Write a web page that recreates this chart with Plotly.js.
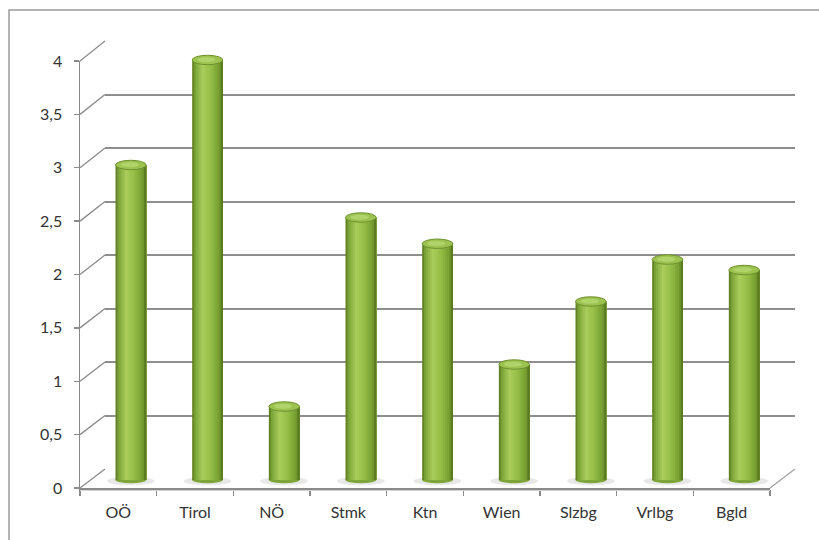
<!DOCTYPE html>
<html>
<head>
<meta charset="utf-8">
<script src="https://cdn.plot.ly/plotly-3.0.1.min.js"></script>
<style>
  html, body { margin: 0; padding: 0; background: #ffffff; }
  #chart { width: 819px; height: 540px; }
</style>
</head>
<body>
<div id="chart"></div>
<script>
// Regions and their values
const regions = ['OÖ', 'Tirol', 'NÖ', 'Stmk', 'Ktn', 'Wien', 'Slzbg', 'Vrlbg', 'Bgld'];
const values = [3, 4, 0.7, 2.5, 2.25, 1.1, 1.7, 2.1, 2.0];
const valueTicks = [0, 0.5, 1, 1.5, 2, 2.5, 3, 3.5, 4];

// Page geometry (pixels), used to place the three axis layers of the 3D look
const PW = 819, PH = 540;
const px = x => x / PW;
const py = y => 1 - y / PH;

const FRONT = { x0: 80, x1: 770, y0: 488, y1: 61 };   // front edge / value axis
const BACK  = { x0: 105, x1: 795, y0: 469, y1: 41 };  // back wall with gridlines
const VMAX = 4;

// plane the cylinders stand in: 0 at y=480, 105 px per unit, with headroom for caps
const MID_X0 = 92.5, MID_X1 = 782.5, MID_ZERO = 480, MID_SCALE = 105;
const MID_RANGE = [-0.12, 4.25];

const frontY = v => FRONT.y0 - (FRONT.y0 - FRONT.y1) * v / VMAX;
const backY  = v => BACK.y0 - (BACK.y0 - BACK.y1) * v / VMAX;
const midY   = v => MID_ZERO - MID_SCALE * v;

const FONT = 'Lato, "Open Sans", "DejaVu Sans", sans-serif';
const LINE = '#8a8a8a';

// Horizontal shading of a cylinder: dark rims, highlight left of centre
const stops = [
  [0.00, [88, 118, 30]],
  [0.10, [124, 164, 56]],
  [0.35, [170, 206, 92]],
  [0.62, [148, 188, 70]],
  [0.88, [118, 158, 48]],
  [1.00, [90, 122, 32]]
];
function shade(t) {
  for (let i = 1; i < stops.length; i++) {
    if (t <= stops[i][0]) {
      const [ta, ca] = stops[i - 1], [tb, cb] = stops[i];
      const f = (t - ta) / (tb - ta);
      const c = ca.map((a, k) => Math.round(a + (cb[k] - a) * f));
      return `rgb(${c[0]},${c[1]},${c[2]})`;
    }
  }
  const c = stops[stops.length - 1][1];
  return `rgb(${c[0]},${c[1]},${c[2]})`;
}

const BAR_W = 0.40;   // cylinder diameter in category units
const STRIPS = 16;
const CAP = 0.045;    // half height of the top ellipse in value units

const traces = [];

// front axes carrier
traces.push({ type: 'scatter', mode: 'none', x: regions, y: values.map(() => 0),
  xaxis: 'x', yaxis: 'y', hoverinfo: 'skip', showlegend: false });
// back wall carrier
traces.push({ type: 'scatter', mode: 'none', x: [0], y: [0],
  xaxis: 'x2', yaxis: 'y2', hoverinfo: 'skip', showlegend: false });

// cylinder bodies: each strip runs from its left edge to the right rim,
// later strips cover earlier ones, giving a smooth left-to-right shading
for (let k = 0; k < STRIPS; k++) {
  const t = (k + 0.5) / STRIPS;
  const left = -BAR_W / 2 + k * BAR_W / STRIPS;
  traces.push({
    type: 'bar', x: regions, y: values, xaxis: 'x3', yaxis: 'y3',
    width: BAR_W / 2 - left,
    offset: left,
    marker: { color: shade(t), line: { width: 0 } },
    hoverinfo: 'skip', showlegend: false
  });
}
// darker right rim on top
traces.push({
  type: 'bar', x: regions, y: values, xaxis: 'x3', yaxis: 'y3',
  width: BAR_W / STRIPS, offset: BAR_W / 2 - BAR_W / STRIPS,
  marker: { color: shade(1), line: { width: 0 } },
  hoverinfo: 'skip', showlegend: false
});

const shapes = [];

// soft shadow and rounded base of each cylinder
values.forEach((v, i) => {
  shapes.push({ type: 'circle', xref: 'x3', yref: 'y3', layer: 'below',
    x0: i - BAR_W * 0.78, x1: i + BAR_W * 0.78, y0: -0.05, y1: 0.03,
    fillcolor: 'rgba(140,140,140,0.20)', line: { width: 0 } });
  shapes.push({ type: 'circle', xref: 'x3', yref: 'y3', layer: 'below',
    x0: i - BAR_W / 2, x1: i + BAR_W / 2, y0: -0.03, y1: 0.03,
    fillcolor: '#7ea53a', line: { width: 0 } });
});

// cylinder tops
values.forEach((v, i) => {
  shapes.push({ type: 'circle', xref: 'x3', yref: 'y3',
    x0: i - BAR_W / 2, x1: i + BAR_W / 2, y0: v - CAP, y1: v + CAP,
    fillcolor: '#9cc250', line: { color: '#6f9230', width: 1 } });
  shapes.push({ type: 'circle', xref: 'x3', yref: 'y3',
    x0: i - BAR_W * 0.34, x1: i + BAR_W * 0.26, y0: v - CAP * 0.5, y1: v + CAP * 0.6,
    fillcolor: '#b0d36a', line: { width: 0 } });
});

// diagonal connectors from the value axis to the back wall
valueTicks.forEach(v => {
  shapes.push({ type: 'line', xref: 'paper', yref: 'paper',
    x0: px(FRONT.x0), y0: py(frontY(v)), x1: px(BACK.x0), y1: py(backY(v)),
    line: { color: LINE, width: 1.3 } });
});

// right edge of the floor
shapes.push({ type: 'line', xref: 'paper', yref: 'paper',
  x0: px(FRONT.x1), y0: py(frontY(0)), x1: px(BACK.x1), y1: py(backY(0)),
  line: { color: '#a0a0a0', width: 1.2 } });
// floor thickness
shapes.push({ type: 'line', xref: 'paper', yref: 'paper',
  x0: px(FRONT.x0), y0: py(frontY(0) + 2.5), x1: px(FRONT.x1), y1: py(frontY(0) + 2.5),
  line: { color: '#d4d4d4', width: 1 } });

// chart frame
shapes.push({ type: 'rect', xref: 'paper', yref: 'paper',
  x0: px(9), y0: py(10), x1: px(840), y1: py(560),
  line: { color: '#9a9a9a', width: 1.5 } });

const layout = {
  width: PW, height: PH,
  margin: { l: 0, r: 0, t: 0, b: 0 },
  paper_bgcolor: '#ffffff',
  plot_bgcolor: 'rgba(0,0,0,0)',
  separators: ',.',
  barmode: 'overlay',
  hovermode: false,
  showlegend: false,
  font: { family: FONT, size: 16, color: '#333333' },
  xaxis: {
    domain: [px(FRONT.x0), px(FRONT.x1)], anchor: 'y',
    type: 'category', categoryorder: 'array', categoryarray: regions,
    range: [-0.5, regions.length - 0.5], fixedrange: true,
    showline: true, linecolor: LINE, linewidth: 1.5,
    ticks: 'outside', tickson: 'boundaries', ticklen: 6, tickcolor: LINE, tickwidth: 1.3,
    showgrid: false, zeroline: false,
    ticklabelstandoff: 9,
    tickfont: { family: FONT, size: 16, color: '#333333' }
  },
  yaxis: {
    domain: [py(FRONT.y0), py(FRONT.y1)], anchor: 'x',
    range: [0, VMAX], fixedrange: true,
    tickvals: valueTicks,
    showline: true, linecolor: LINE, linewidth: 1.5,
    ticks: 'outside', ticklen: 5, tickcolor: LINE, tickwidth: 1.3,
    showgrid: false, zeroline: false,
    ticklabelstandoff: 8,
    tickfont: { family: FONT, size: 16, color: '#333333' }
  },
  xaxis2: {
    domain: [px(BACK.x0), px(BACK.x1)], anchor: 'y2',
    range: [0, 1], visible: false, fixedrange: true
  },
  yaxis2: {
    domain: [py(BACK.y0), py(BACK.y1)], anchor: 'x2',
    range: [0, VMAX], tickvals: valueTicks, fixedrange: true,
    showgrid: true, gridcolor: '#8e8e8e', gridwidth: 2,
    showticklabels: false, ticks: '', showline: false, zeroline: false
  },
  xaxis3: {
    domain: [px(MID_X0), px(MID_X1)], anchor: 'y3',
    type: 'category', categoryorder: 'array', categoryarray: regions,
    range: [-0.5, regions.length - 0.5], visible: false, fixedrange: true
  },
  yaxis3: {
    domain: [py(midY(MID_RANGE[0])), py(midY(MID_RANGE[1]))], anchor: 'x3',
    range: MID_RANGE, visible: false, fixedrange: true
  },
  shapes: shapes
};

Plotly.newPlot('chart', traces, layout, { displayModeBar: false, staticPlot: true });
</script>
</body>
</html>
